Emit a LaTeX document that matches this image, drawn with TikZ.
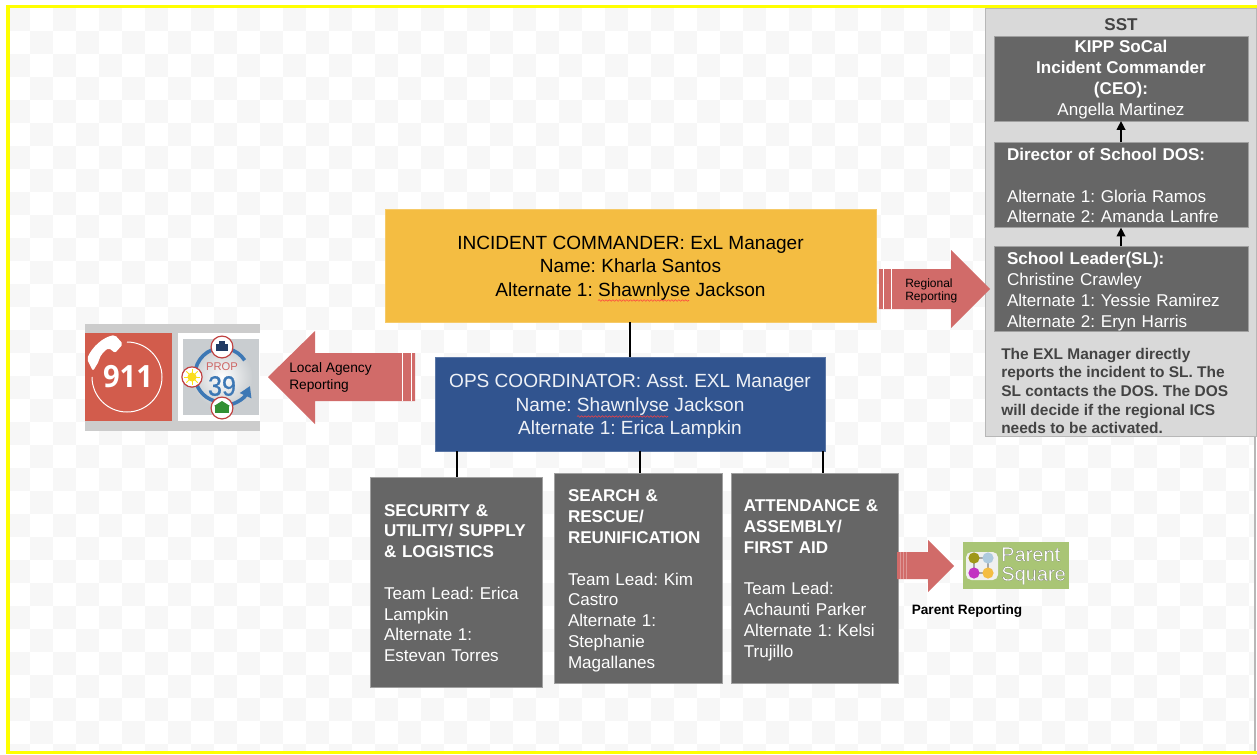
\documentclass[tikz,border=0pt]{standalone}
\usepackage{fontspec}
\setmainfont{Liberation Sans}
\newfontfamily\psfont[RawFeature={embolden=0.45}]{Liberation Sans}
\newfontfamily\propfont[RawFeature={embolden=0.8}]{Liberation Sans}
\newfontfamily\nineone{Open Sans}
\usetikzlibrary{arrows.meta,decorations.pathmorphing}
\newcommand{\topnudge}[1]{\rule{0pt}{#1pt}}
\definecolor{yel}{HTML}{FFFF00}
\definecolor{chk}{HTML}{F7F7F7}
\definecolor{panel}{HTML}{D9D9D9}
\definecolor{panelb}{HTML}{B7B7B7}
\definecolor{dark}{HTML}{666666}
\definecolor{darkb}{HTML}{A0A0A0}
\definecolor{note}{HTML}{434343}
\definecolor{orange}{HTML}{F4BD42}
\definecolor{blue}{HTML}{31548F}
\definecolor{arrowred}{HTML}{D16B69}
\definecolor{red911}{HTML}{D25C4C}
\definecolor{stripgray}{HTML}{CCCCCC}
\definecolor{propgray}{HTML}{C9CDD0}
\definecolor{propblue}{HTML}{3D78B5}
\definecolor{propred}{HTML}{C0403F}
\definecolor{psgreen}{HTML}{A9C575}
\tikzset{
  x=.75pt,y=-.75pt,
  bigtxt/.style={font=\frenchspacing\fontsize{14.3}{17.6}\selectfont,align=center},
  teambox/.style={fill=dark,draw=darkb,line width=.4pt,text=white,align=left,anchor=center,
    inner sep=0pt,font=\frenchspacing\fontsize{12.8}{15.6}\selectfont},
  sstbox/.style={fill=dark,draw=darkb,line width=.4pt,text=white,anchor=center,inner sep=0pt,
    font=\frenchspacing\fontsize{12.8}{15.6}\selectfont,minimum width=190.5pt,minimum height=63.5pt},
  conn/.style={black,line width=1.8pt},
  upconn/.style={black,line width=1pt,-{Triangle[length=6.5pt,width=6.5pt]}},
  blockarrow/.style={fill=arrowred},
  stripe/.style={white,line width=.6pt},
  arrowlabel/.style={black,align=left,anchor=west,inner sep=0pt},
  squiggle/.style={draw=red!75!white,line width=.4pt,decorate,
    decoration={snake,amplitude=.6pt,segment length=2.6pt}},
  ringarc/.style={propblue,line width=2.7pt},
  badge/.style={fill=white,draw=propred,line width=.9pt},
}
\begin{document}
\begin{tikzpicture}
\useasboundingbox (0,0) rectangle (1257,754);
\fill[white] (0,0) rectangle (1257,754);
% checker
\foreach \i in {0,...,54}{\foreach \j in {0,...,32}{
  \pgfmathparse{int(mod(\i+\j,2))}
  \ifnum\pgfmathresult=0
    \fill[chk] ({7+23*\i},{8+23*\j}) rectangle ({min(7+23*\i+23,1255)},{min(8+23*\j+23,751)});
  \fi}}
% frame
\fill[yel] (6,5) rectangle (1257,8);
\fill[yel] (6,5) rectangle (10,754);
\fill[yel] (6,751) rectangle (1257,754);
\fill[panelb] (1254,436) rectangle (1256,751);

% main boxes
\node[fill=orange,draw=orange!80!white,line width=.4pt,inner sep=0pt,minimum width=368.25pt,minimum height=84.75pt,bigtxt]
  (ic) at (630.5,265.5) {\topnudge{13.6}INCIDENT COMMANDER: ExL Manager\\Name: Kharla Santos\\Alternate 1: Shawnlyse Jackson};
\node[fill=blue,draw=blue!80!white,line width=.4pt,inner sep=0pt,minimum width=292.5pt,minimum height=70.5pt,bigtxt,text=white!92!blue]
  (ops) at (630,404) {\topnudge{13.6}OPS COORDINATOR: Asst. EXL Manager\\Name: Shawnlyse Jackson\\Alternate 1: Erica Lampkin};
\draw[squiggle] (598,300.5) -- (689,300.5);
\draw[squiggle] (577,416.5) -- (668,416.5);

% team boxes
\node[teambox,minimum width=129pt,minimum height=157.5pt,text width=108pt] (t1) at (456,582)
 {\topnudge{10.4}\textbf{SECURITY \&}\\\textbf{UTILITY/ SUPPLY}\\\textbf{\& LOGISTICS}\\[15.6pt]Team Lead: Erica\\Lampkin\\Alternate 1:\\Estevan Torres};
\node[teambox,minimum width=126pt,minimum height=157.5pt,text width=105pt] (t2) at (638,578)
 {\topnudge{13.2}\textbf{SEARCH \&}\\\textbf{RESCUE/}\\\textbf{REUNIFICATION}\\[15.6pt]Team Lead: Kim\\Castro\\Alternate 1:\\Stephanie\\Magallanes};
\node[teambox,minimum width=125.25pt,minimum height=157.5pt,text width=106pt] (t3) at (814.5,578)
 {\topnudge{12.4}\textbf{ATTENDANCE \&}\\\textbf{ASSEMBLY/}\\\textbf{FIRST AID}\\[15.6pt]Team Lead:\\Achaunti Parker\\Alternate 1: Kelsi\\Trujillo};

% connectors
\draw[conn] (ic.south -| 630,0) -- (ops.north -| 630,0);
\draw[conn] (ops.south -| 457,0) -- (t1.north -| 457,0);
\draw[conn] (ops.south -| 640,0) -- (t2.north -| 640,0);
\draw[conn] (ops.south -| 823,0) -- (t3.north -| 823,0);

% SST panel
\node[fill=panel,draw=panelb,line width=.75pt,minimum width=203.25pt,minimum height=321pt,inner sep=0pt] (sst) at (1121,222) {};
\node[font=\bfseries\fontsize{12.8}{14}\selectfont,text=note,inner sep=0pt] (ssttitle) at (1121,25) {SST};
\node[sstbox,align=center] (kipp) at (1121,78.5) {\topnudge{10.9}\textbf{KIPP SoCal}\\\textbf{Incident Commander}\\\textbf{(CEO):}\\Angella Martinez};
\node[sstbox,align=left,text width=171pt] (dos) at (1121,185) {\topnudge{10.2}\textbf{Director of School DOS:}\\[15.6pt]Alternate 1: Gloria Ramos\\Alternate 2: Amanda Lanfre};
\node[sstbox,align=left,text width=171pt] (sl) at (1121,289) {\topnudge{13.2}\textbf{School Leader(SL):}\\Christine Crawley\\Alternate 1: Yessie Ramirez\\Alternate 2: Eryn Harris};
\draw[upconn] (dos.north -| 1121,0) -- (kipp.south -| 1121,0);
\draw[upconn] (sl.north -| 1121,0) -- (dos.south -| 1121,0);
\node[anchor=west,inner sep=0pt,align=left,text=note,font=\frenchspacing\bfseries\fontsize{11.6}{14}\selectfont] (notetxt) at (1001,391)
 {The EXL Manager directly\\reports the incident to SL. The\\SL contacts the DOS. The DOS\\will decide if the regional ICS\\needs to be activated.};

% regional arrow
\fill[blockarrow] (879,269) -- (951,269) -- (951,250) -- (990,289) -- (951,328) -- (951,309) -- (879,309) -- cycle;
\draw[stripe] (883,269) -- (883,309);
\draw[stripe] (891,269) -- (891,309);
\node[arrowlabel,font=\fontsize{9}{9.8}\selectfont] (regl) at (905,290.5) {Regional\\Reporting};
% local arrow
\fill[blockarrow] (415,353) -- (315,353) -- (315,331) -- (268,377) -- (315,424) -- (315,401) -- (415,401) -- cycle;
\draw[stripe] (402,353) -- (402,401);
\draw[stripe] (411,353) -- (411,401);
\node[arrowlabel,font=\fontsize{10.3}{12.7}\selectfont] (locl) at (289,377) {Local Agency\\Reporting};
% parent arrow
\fill[blockarrow] (897,552) -- (928,552) -- (928,540) -- (954,566) -- (928,592) -- (928,579) -- (897,579) -- cycle;
\draw[white,opacity=.3,line width=.4pt] (900,552) -- (900,579) (903,552) -- (903,579) (906,552) -- (906,579);
\node[font=\bfseries\fontsize{10.2}{12}\selectfont,inner sep=0pt] (prep) at (967,611) {Parent Reporting};

% 911 / Prop 39 image
\fill[stripgray] (85,324) rectangle (260,431);
\fill[red911] (85,333) rectangle (172,421);
\fill[white] (178,333) rectangle (260,421);
\fill[propgray] (183,339) rectangle (259,415);
\shade[inner color=white,outer color=propgray] (222,377) circle[radius=23pt];
\draw[white,line width=.75pt] (127,377) ++(-90:35) arc[start angle=90,end angle=-180,radius=26.25pt];
\fill[white,rounded corners=1.5pt] (87,359) .. controls (92,347) and (103,337) .. (115,335)
  -- (123,344) -- (115,353) -- (109,348) .. controls (104,351) and (100,356) .. (99,361) -- (93,371) -- cycle;
\node[text=white,font=\nineone\bfseries\fontsize{23}{26}\selectfont,inner sep=0pt,xscale=.95] (n911) at (128,377) {911};
% ring
\draw[ringarc] (222,375) ++(-100:27) arc[start angle=100,end angle=262,radius=20.25pt];
\draw[ringarc] (222,375) ++(-75:27) arc[start angle=75,end angle=33,radius=20.25pt];
\draw[ringarc,-{Triangle[length=8pt,width=9pt]}] (229,405) .. controls (238,403) and (245,397) .. (250,386);
\node[text=propred!80!white,font=\fontsize{8.4}{9}\selectfont,inner sep=0pt] (prop) at (222,367) {PROP};
\node[text=propblue,font=\propfont\fontsize{21}{22}\selectfont,inner sep=0pt,xscale=.9] (p39) at (222,386) {39};
\draw[badge] (222,347) circle[radius=8.2pt];
\draw[badge] (192,377) circle[radius=7.6pt];
\draw[badge] (222,408) circle[radius=8.2pt];
\fill[blue!70!black] (216,344) rectangle (228,351);
\fill[blue!70!black] (219,341) rectangle (225,344);
\foreach \a in {0,45,...,315}{\draw[yellow!75!orange,line width=.6pt] (192,377) -- ++(\a:8);}
\fill[yellow!60!orange] (192,377) circle[radius=3.4pt];
\fill[green!45!black!80!white] (215,406) rectangle (229,413);
\fill[green!45!black!80!white] (214,406) -- (222,401) -- (230,406) -- cycle;

% ParentSquare
\fill[psgreen] (963,542) rectangle (1069,589);
\fill[white!88!gray,rounded corners=4pt] (966,552) rectangle (998,580);
\draw[gray!70,line width=.8pt] (974,558) rectangle (988,573);
\fill[olive!85!white] (974,558) circle[radius=4.2pt];
\fill[cyan!40!blue!40!white] (988,558) circle[radius=4.2pt];
\fill[violet!60!magenta!80!white] (974,573) circle[radius=4.2pt];
\fill[orange] (988,573) circle[radius=4.2pt];
\node[anchor=west,inner sep=0pt,align=left,
  font=\psfont\fontsize{15}{14.6}\selectfont] (ps) at (1001,566) {\color{white}\special{pdf:code 0.3 0.3 0.3 RG}Parent\\\color{white}\special{pdf:code 0.3 0.3 0.3 RG}Square};
\end{tikzpicture}
\end{document}
